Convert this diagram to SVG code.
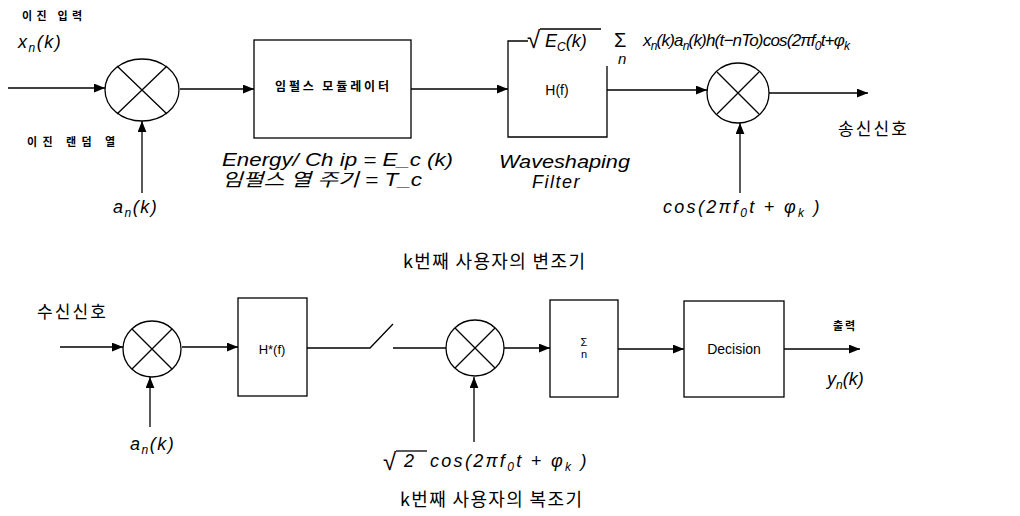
<svg xmlns="http://www.w3.org/2000/svg" width="1020" height="516" viewBox="0 0 1020 516">
<defs>
<marker id="ah" viewBox="0 0 10 8" refX="10" refY="4" markerWidth="11" markerHeight="9" markerUnits="userSpaceOnUse" orient="auto">
<path d="M0,0 L10,4 L0,8 z" fill="#000"/>
</marker>
</defs>
<style>
.ln{fill:none;stroke:#000;stroke-width:1.3}
.box{fill:#fff;stroke:#000;stroke-width:1.3}
.mul{fill:#fff;stroke:#000;stroke-width:1.3}
.m{font-family:"Liberation Sans",Arial,sans-serif;font-style:italic;font-size:18px;fill:#000}
.w{letter-spacing:1.5px}
.c{letter-spacing:2.3px}
.s{font-size:12px}
.kb{font-family:"Noto Sans CJK KR",sans-serif;font-weight:bold;font-size:11px;fill:#000}
.kr{font-family:"Noto Sans CJK KR",sans-serif;font-size:17px;fill:#000}
.t{font-family:"Liberation Sans",Arial,sans-serif;font-size:14px;fill:#000}
</style>
<rect width="1020" height="516" fill="#fff"/>

<g id="connectors">
<path class="ln" d="M8,88 H105" marker-end="url(#ah)"/>
<path class="ln" d="M142,193 V121" marker-end="url(#ah)"/>
<path class="ln" d="M180,89 H254" marker-end="url(#ah)"/>
<path class="ln" d="M411,89 H508" marker-end="url(#ah)"/>
<path class="ln" d="M607,90 H707" marker-end="url(#ah)"/>
<path class="ln" d="M740,193 V123" marker-end="url(#ah)"/>
<path class="ln" d="M769,93 H868" marker-end="url(#ah)"/>
<path class="ln" d="M60,347 H123" marker-end="url(#ah)"/>
<path class="ln" d="M150,427 V377" marker-end="url(#ah)"/>
<path class="ln" d="M182,347 H238" marker-end="url(#ah)"/>
<path class="ln" d="M307,348 H370 L393,324"/>
<path class="ln" d="M393,348 H447"/>
<path class="ln" d="M474,442 V377" marker-end="url(#ah)"/>
<path class="ln" d="M504,348 H550" marker-end="url(#ah)"/>
<path class="ln" d="M618,349 H684" marker-end="url(#ah)"/>
<path class="ln" d="M784,349 H860" marker-end="url(#ah)"/>
</g>

<g id="labels-top">
<text class="kb" x="22" y="20" textLength="60">이진 입력</text>
<text class="m w" x="18" y="48">x<tspan class="s" dy="4">n</tspan><tspan dy="-4">(k)</tspan></text>
<text class="kb" x="27" y="146" textLength="88">이진 랜덤 열</text>
<text class="m w" x="113" y="213">a<tspan class="s" dy="4">n</tspan><tspan dy="-4">(k)</tspan></text>
<text class="m" x="222" y="166" textLength="231" lengthAdjust="spacingAndGlyphs">Energy/ Ch ip = E_c (k)</text>
<text class="m" x="222" y="186" textLength="200" lengthAdjust="spacingAndGlyphs" style="font-family:'Liberation Sans','Noto Sans CJK KR',sans-serif">임펄스 열 주기 = T_c</text>
<text class="m" x="499" y="168" textLength="131" lengthAdjust="spacingAndGlyphs">Waveshaping</text>
<text class="m w" x="532" y="188">Filter</text>
<text class="m" x="527" y="48" style="font-style:normal;font-size:24px">√</text>
<line class="ln" x1="540" y1="29" x2="601" y2="29"/>
<text class="m" x="545" y="47">E<tspan class="s" dy="4">C</tspan><tspan dy="-4">(k)</tspan></text>
<text class="m" x="614" y="47" style="font-style:normal;font-size:20px">Σ</text>
<text class="m" x="618" y="64" style="font-size:15px">n</text>
<text class="m" x="643" y="46" style="font-size:17px;letter-spacing:-0.8px">x<tspan class="s" dy="4">n</tspan><tspan dy="-4">(k)a</tspan><tspan class="s" dy="4">n</tspan><tspan dy="-4">(k)h(t−nTo)cos(2πf</tspan><tspan class="s" dy="4">0</tspan><tspan dy="-4">t+φ</tspan><tspan class="s" dy="4">k</tspan></text>
<text class="kr" x="838" y="135" textLength="69">송신신호</text>
<text class="m c" x="663" y="213">cos(2πf<tspan class="s" dy="4">0</tspan><tspan dy="-4">t + φ</tspan><tspan class="s" dy="4">k</tspan><tspan dy="-4"> )</tspan></text>
<text class="kr" x="403" y="268" style="font-size:18px" textLength="182">k번째 사용자의 변조기</text>
</g>

<g id="mult1">
<ellipse class="mul" cx="142" cy="90" rx="37" ry="31"/>
<path class="ln" d="M117,66 L167,114 M117,114 L167,66"/>
</g>
<g id="impulse-modulator">
<rect class="box" x="254" y="40" width="157" height="98"/>
<text class="kb" x="332" y="91" text-anchor="middle" style="font-size:12px" textLength="114">임펄스 모듈레이터</text>
</g>
<g id="waveshaping-filter">
<path class="ln" d="M528,41 H508 V137 H607 V66"/>
<text class="t" x="557" y="95" text-anchor="middle">H(f)</text>
</g>
<g id="mult2">
<ellipse class="mul" cx="738" cy="93" rx="31" ry="30"/>
<path class="ln" d="M717,72 L759,114 M717,114 L759,72"/>
</g>

<g id="labels-bottom">
<text class="kr" x="37" y="318" textLength="69">수신신호</text>
<text class="m w" x="130" y="450">a<tspan class="s" dy="4">n</tspan><tspan dy="-4">(k)</tspan></text>
<text class="m" x="383" y="470" style="font-style:normal;font-size:24px">√</text>
<line class="ln" x1="396" y1="451" x2="427" y2="451"/>
<text class="m" x="404" y="467">2</text>
<text class="m c" x="430" y="467">cos(2πf<tspan class="s" dy="4">0</tspan><tspan dy="-4">t + φ</tspan><tspan class="s" dy="4">k</tspan><tspan dy="-4"> )</tspan></text>
<text class="kb" x="833" y="330" textLength="22">출력</text>
<text class="m" x="827" y="385">y<tspan class="s" dy="4">n</tspan><tspan dy="-4">(k)</tspan></text>
<text class="kr" x="400" y="506" style="font-size:18px" textLength="182">k번째 사용자의 복조기</text>
</g>

<g id="mult3">
<ellipse class="mul" cx="152" cy="349" rx="29" ry="28"/>
<path class="ln" d="M132,329 L172,369 M132,369 L172,329"/>
</g>
<g id="matched-filter">
<rect class="box" x="238" y="298" width="69" height="98"/>
<text class="t" x="272" y="354" text-anchor="middle" style="font-size:13px">H*(f)</text>
</g>
<g id="mult4">
<ellipse class="mul" cx="475" cy="348" rx="29" ry="28"/>
<path class="ln" d="M455,328 L495,368 M455,368 L495,328"/>
</g>
<g id="summer">
<rect class="box" x="550" y="300" width="68" height="97"/>
<text class="t" x="584" y="346" text-anchor="middle" style="font-size:11px">Σ</text>
<text class="t" x="584" y="358" text-anchor="middle" style="font-size:11px">n</text>
</g>
<g id="decision">
<rect class="box" x="684" y="301" width="100" height="96"/>
<text class="t" x="734" y="354" text-anchor="middle">Decision</text>
</g>
</svg>
